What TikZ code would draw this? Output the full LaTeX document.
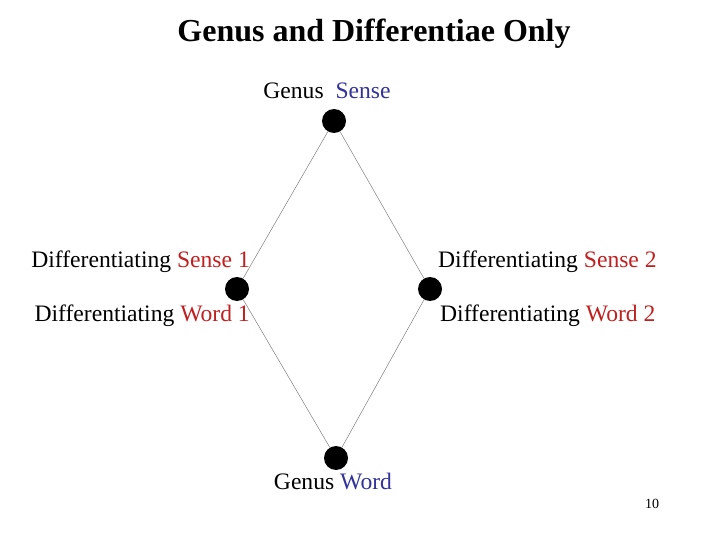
\documentclass[tikz,border=0pt]{standalone}
\usepackage{fontspec}
\setmainfont{Liberation Serif}
\definecolor{gblue}{RGB}{51,51,153}
\definecolor{dred}{RGB}{192,32,32}
\begin{document}
\begin{tikzpicture}[x=1pt,y=-1pt,
  dot/.style={circle,fill=black,minimum size=24pt,inner sep=0pt},
  lbl/.style={font=\fontsize{23.6}{27}\selectfont,inner sep=0pt},
  link/.style={draw=gray,line width=0.5pt}]
\useasboundingbox[fill=white] (0,0) rectangle (720,540);
\node[font=\bfseries\fontsize{32}{36}\selectfont,anchor=base,inner sep=0pt] (title) at (374,42) {Genus and Differentiae Only};
\node[dot] (top) at (334,121) {};
\node[dot] (left) at (237,289) {};
\node[dot] (right) at (430,289) {};
\node[dot] (bot) at (336,458) {};
\draw[link] (top) -- (left);
\draw[link] (top) -- (right);
\draw[link] (left) -- (bot);
\draw[link] (right) -- (bot);
\node[lbl,anchor=base] (gs) at (327,99) {Genus\ \ \textcolor{gblue}{Sense}};
\node[lbl,anchor=base east] (ds1) at (250,267) {Differentiating \textcolor{dred}{Sense 1}};
\node[lbl,anchor=base east] (dw1) at (250,321) {Differentiating \textcolor{dred}{Word 1}};
\node[lbl,anchor=base west] (ds2) at (438,267) {Differentiating \textcolor{dred}{Sense 2}};
\node[lbl,anchor=base west] (dw2) at (440,321) {Differentiating \textcolor{dred}{Word 2}};
\node[lbl,anchor=base] (gw) at (333,489) {Genus \textcolor{gblue}{Word}};
\node[font=\fontsize{14}{16}\selectfont,anchor=base,inner sep=0pt] (pg) at (652,508) {10};
\end{tikzpicture}
\end{document}
